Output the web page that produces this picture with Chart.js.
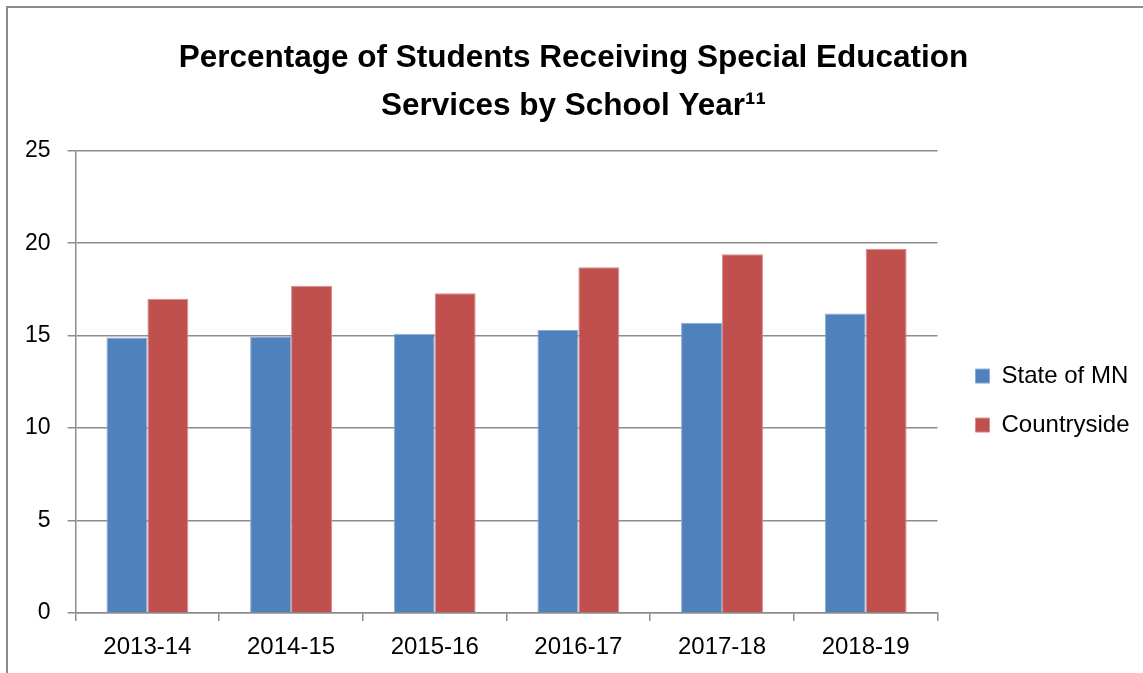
<!DOCTYPE html>
<html>
<head>
<meta charset="utf-8">
<script src="https://cdn.jsdelivr.net/npm/chart.js@4/dist/chart.umd.min.js"></script>
<style>
  html, body { margin: 0; padding: 0; background: #fff; }
  #frame {
    position: absolute; left: 6px; top: 6px;
    width: 1137px; height: 667px;
    border-left: 2px solid #8c8c8c; border-top: 2px solid #8c8c8c;
  }
  #chart { display: block; }
</style>
</head>
<body>
<div id="frame"><canvas id="chart" width="1135" height="665"></canvas></div>
<script>
const schoolYears = ['2013-14', '2014-15', '2015-16', '2016-17', '2017-18', '2018-19'];
const stateOfMN = [14.9, 14.95, 15.1, 15.3, 15.7, 16.2];
const countryside = [17.0, 17.7, 17.3, 18.7, 19.4, 19.7];
const titleLines = ['Percentage of Students Receiving Special Education', 'Services by School Year¹¹'];

const FONT = "'Liberation Sans', Arial, sans-serif";
const GRID = '#8c8c8c';

Chart.defaults.font.family = FONT;
Chart.defaults.color = '#000';
Chart.defaults.animation = false;

new Chart(document.getElementById('chart'), {
  type: 'bar',
  data: {
    labels: schoolYears,
    datasets: [
      {
        label: 'State of MN',
        data: stateOfMN,
        backgroundColor: '#4f81bd',
        borderColor: '#8eaad6',
        borderWidth: 1,
        barPercentage: 1,
        categoryPercentage: 0.57
      },
      {
        label: 'Countryside',
        data: countryside,
        backgroundColor: '#c0504d',
        borderColor: '#da8a88',
        borderWidth: 1,
        barPercentage: 1,
        categoryPercentage: 0.57
      }
    ]
  },
  options: {
    responsive: false,
    layout: { padding: { left: 0, right: 4, bottom: 0 } },
    plugins: {
      title: {
        display: true,
        text: titleLines,
        color: '#000',
        font: { size: 31.5, weight: 'bold', lineHeight: 1.52 },
        padding: { top: 26, bottom: 21 }
      },
      legend: {
        position: 'right',
        fullSize: false,
        // empty title only pushes the two items a bit lower
        title: { display: true, text: '', padding: { top: 23, bottom: 0 } },
        labels: {
          boxWidth: 14,
          boxHeight: 14,
          padding: 25,
          color: '#000',
          font: { size: 24 }
        }
      },
      tooltip: { enabled: false }
    },
    scales: {
      x: {
        offset: true,
        grid: { offset: true, drawOnChartArea: false, color: GRID, lineWidth: 1.5, tickLength: 8 },
        border: { color: GRID, width: 1.5 },
        ticks: { font: { size: 24, lineHeight: 1 }, padding: 14, color: '#000' }
      },
      y: {
        min: 0,
        max: 25,
        ticks: { stepSize: 5, font: { size: 23 }, padding: 17, color: '#000' },
        grid: { color: GRID, lineWidth: 1.5, tickLength: 8 },
        border: { color: GRID, width: 1.5 }
      },
      gap: {
        position: 'right',
        display: true,
        grid: { display: false },
        ticks: { display: false },
        border: { display: false },
        afterFit(scale) { scale.width = 13; }
      }
    }
  }
});
</script>
</body>
</html>
